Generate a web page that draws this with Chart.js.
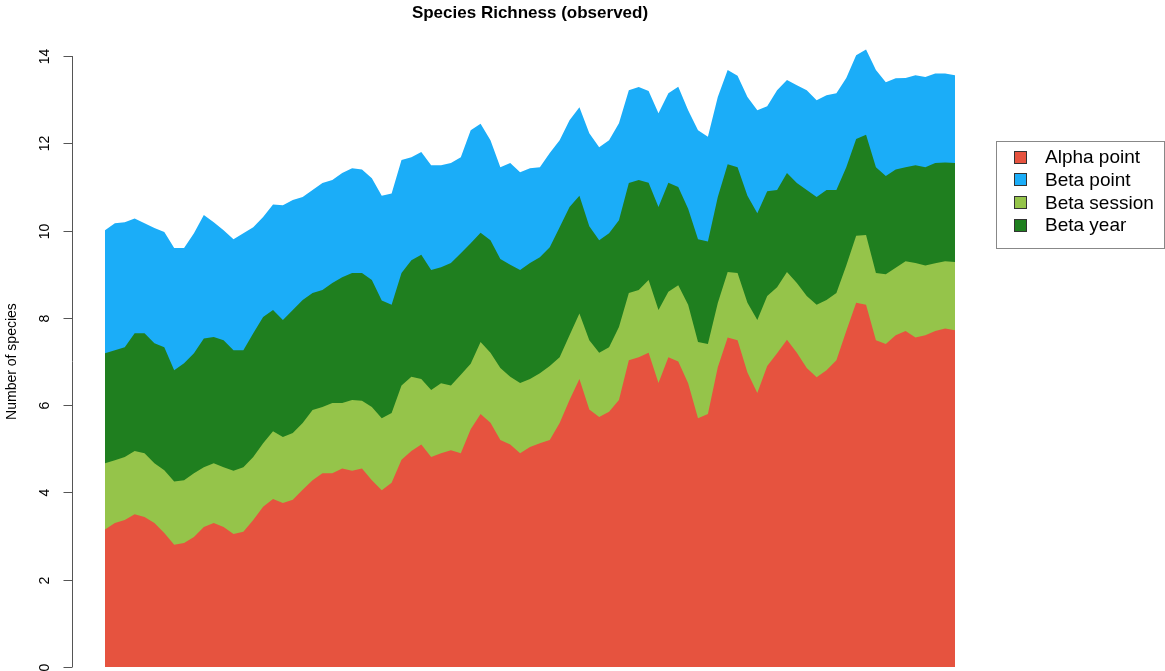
<!DOCTYPE html>
<html><head><meta charset="utf-8">
<script src="https://cdn.jsdelivr.net/npm/chart.js@4"></script>
<style>html,body{margin:0;padding:0;background:#fff}#wrap{width:1165px;height:671px;position:relative}</style>
</head><body><div id="wrap"><canvas id="c" width="1165" height="671"></canvas></div>
<script>
const chartTitle = 'Species Richness (observed)';
const yAxisTitle = 'Number of species';
const yTicks = [0, 2, 4, 6, 8, 10, 12, 14];
const legendNames = ['Alpha point', 'Beta point', 'Beta session', 'Beta year'];

// Upper edge of each stacked band (left to right)
const alphaPoint = [3.15,
  3.3, 3.37, 3.5, 3.44, 3.3, 3.07, 2.8, 2.84, 2.98, 3.21,
  3.3, 3.21, 3.05, 3.1, 3.37, 3.67, 3.85, 3.76, 3.83, 4.06,
  4.28, 4.44, 4.44, 4.55, 4.5, 4.55, 4.28, 4.05, 4.22, 4.75,
  4.95, 5.1, 4.81, 4.9, 4.97, 4.9, 5.45, 5.8, 5.6, 5.2,
  5.1, 4.9, 5.04, 5.13, 5.2, 5.59, 6.12, 6.6, 5.9, 5.73,
  5.85, 6.12, 7.03, 7.1, 7.2, 6.51, 7.1, 7.0, 6.5, 5.7,
  5.8, 6.87, 7.55, 7.49, 6.75, 6.28, 6.9, 7.19, 7.5, 7.2,
  6.85, 6.64, 6.8, 7.03, 7.7, 8.35, 8.3, 7.49, 7.4, 7.6,
  7.7, 7.55, 7.6, 7.7, 7.76,
  7.72];
const betaSessionTop = [4.67,
  4.74, 4.81, 4.95, 4.9, 4.67, 4.51, 4.25, 4.28, 4.44, 4.58,
  4.67, 4.58, 4.5, 4.58, 4.81, 5.13, 5.4, 5.27, 5.36, 5.59,
  5.89, 5.96, 6.05, 6.05, 6.12, 6.1, 5.96, 5.7, 5.82, 6.45,
  6.65, 6.6, 6.35, 6.5, 6.45, 6.7, 6.95, 7.45, 7.2, 6.85,
  6.65, 6.51, 6.6, 6.73, 6.9, 7.1, 7.6, 8.1, 7.49, 7.2,
  7.33, 7.79, 8.57, 8.64, 8.87, 8.18, 8.6, 8.75, 8.3, 7.45,
  7.4, 8.34, 9.05, 9.03, 8.35, 7.95, 8.5, 8.7, 9.05, 8.8,
  8.5, 8.3, 8.41, 8.57, 9.2, 9.88, 9.9, 9.03, 9.0, 9.15,
  9.3, 9.26, 9.2, 9.25, 9.3,
  9.28];
const betaYearTop = [7.19,
  7.26, 7.33, 7.65, 7.65, 7.42, 7.33, 6.8, 6.96, 7.19, 7.53,
  7.56, 7.49, 7.26, 7.26, 7.65, 8.02, 8.18, 7.95, 8.18, 8.41,
  8.57, 8.64, 8.8, 8.93, 9.03, 9.03, 8.87, 8.4, 8.3, 9.03,
  9.32, 9.45, 9.1, 9.16, 9.26, 9.48, 9.71, 9.95, 9.78, 9.35,
  9.22, 9.1, 9.26, 9.39, 9.62, 10.08, 10.54, 10.8, 10.1, 9.78,
  9.94, 10.24, 11.09, 11.16, 11.1, 10.54, 11.1, 11.0, 10.5, 9.8,
  9.75, 10.77, 11.52, 11.45, 10.8, 10.4, 10.9, 10.93, 11.32, 11.09,
  10.93, 10.77, 10.93, 10.93, 11.45, 12.1, 12.2, 11.45, 11.25, 11.4,
  11.45, 11.5, 11.45, 11.55, 11.56,
  11.55];
const betaPointTop = [10.01,
  10.17, 10.19, 10.28, 10.17, 10.06, 9.97, 9.6, 9.6, 9.94, 10.36,
  10.19, 10.01, 9.8, 9.94, 10.08, 10.31, 10.6, 10.58, 10.7, 10.77,
  10.93, 11.09, 11.16, 11.32, 11.43, 11.4, 11.2, 10.8, 10.85, 11.62,
  11.68, 11.8, 11.5, 11.5, 11.55, 11.68, 12.3, 12.45, 12.07, 11.45,
  11.55, 11.34, 11.43, 11.45, 11.78, 12.07, 12.53, 12.83, 12.23, 11.91,
  12.07, 12.46, 13.22, 13.29, 13.2, 12.69, 13.15, 13.3, 12.76, 12.3,
  12.15, 13.06, 13.68, 13.55, 13.06, 12.76, 12.85, 13.22, 13.45, 13.33,
  13.22, 12.99, 13.1, 13.15, 13.5, 14.02, 14.15, 13.68, 13.4, 13.49,
  13.5, 13.56, 13.52, 13.6, 13.6,
  13.56];
const samples = alphaPoint.map((_, i) => i + 1);

const COLORS = {
  'Alpha point': '#E6533F',
  'Beta point': '#1BADF8',
  'Beta session': '#95C44A',
  'Beta year': '#1F7F1F'
};
const FONT = '"Liberation Sans", Arial, Helvetica, sans-serif';

function band(label, data) {
  return {
    label, data, fill: 'origin',
    backgroundColor: COLORS[label], borderColor: 'rgba(0,0,0,0)',
    borderWidth: 0, pointRadius: 0, pointHoverRadius: 0, tension: 0
  };
}

const rDecor = {
  id: 'rDecor',
  afterDraw(chart) {
    const ctx = chart.ctx, ys = chart.scales.y, area = chart.chartArea;
    ctx.save();
    ctx.fillStyle = '#000';
    // title
    ctx.font = 'bold 17px ' + FONT;
    ctx.textAlign = 'center'; ctx.textBaseline = 'alphabetic';
    ctx.fillText(chartTitle, (area.left + area.right) / 2, 18);
    // y axis (R style, detached)
    ctx.textBaseline = 'middle';
    const ax = 72.5;
    const p0 = ys.getPixelForValue(yTicks[0]);
    const pN = ys.getPixelForValue(yTicks[yTicks.length - 1]);
    ctx.strokeStyle = '#555'; ctx.lineWidth = 1;
    ctx.beginPath(); ctx.moveTo(ax, p0); ctx.lineTo(ax, pN); ctx.stroke();
    ctx.font = '14px ' + FONT;
    yTicks.forEach(v => {
      const py = Math.round(ys.getPixelForValue(v)) + 0.5;
      ctx.beginPath(); ctx.moveTo(ax - 9, py); ctx.lineTo(ax, py); ctx.stroke();
      ctx.save(); ctx.translate(45, py); ctx.rotate(-Math.PI / 2);
      ctx.fillText(String(v), 0, 0); ctx.restore();
    });
    ctx.font = '14px ' + FONT;
    ctx.save(); ctx.translate(12, (p0 + pN) / 2); ctx.rotate(-Math.PI / 2);
    ctx.fillText(yAxisTitle, 0, 0); ctx.restore();
    // legend
    ctx.strokeStyle = '#888';
    ctx.strokeRect(996.5, 141.5, 168, 107);
    ctx.font = '19px ' + FONT;
    ctx.textAlign = 'left';
    legendNames.forEach((name, i) => {
      const cy = 157 + i * 22.7;
      ctx.fillStyle = COLORS[name];
      ctx.fillRect(1014, Math.round(cy - 6.5), 13, 13);
      ctx.strokeStyle = '#333';
      ctx.strokeRect(1014.5, Math.round(cy - 6.5) + 0.5, 12, 12);
      ctx.fillStyle = '#000';
      ctx.fillText(name, 1045, cy + 1);
    });
    ctx.restore();
  }
};

new Chart(document.getElementById('c'), {
  type: 'line',
  data: {
    labels: samples,
    datasets: [
      band('Alpha point', alphaPoint),
      band('Beta session', betaSessionTop),
      band('Beta year', betaYearTop),
      band('Beta point', betaPointTop)
    ]
  },
  options: {
    responsive: false, animation: false, devicePixelRatio: 1,
    layout: { padding: { left: 105, right: 210, top: 43, bottom: 4 } },
    scales: {
      x: { type: 'category', display: false, offset: false },
      y: { min: 0, max: 14.3, display: false }
    },
    plugins: { legend: { display: false }, title: { display: false }, tooltip: { enabled: false } },
    events: []
  },
  plugins: [rDecor]
});
</script>
</body></html>
